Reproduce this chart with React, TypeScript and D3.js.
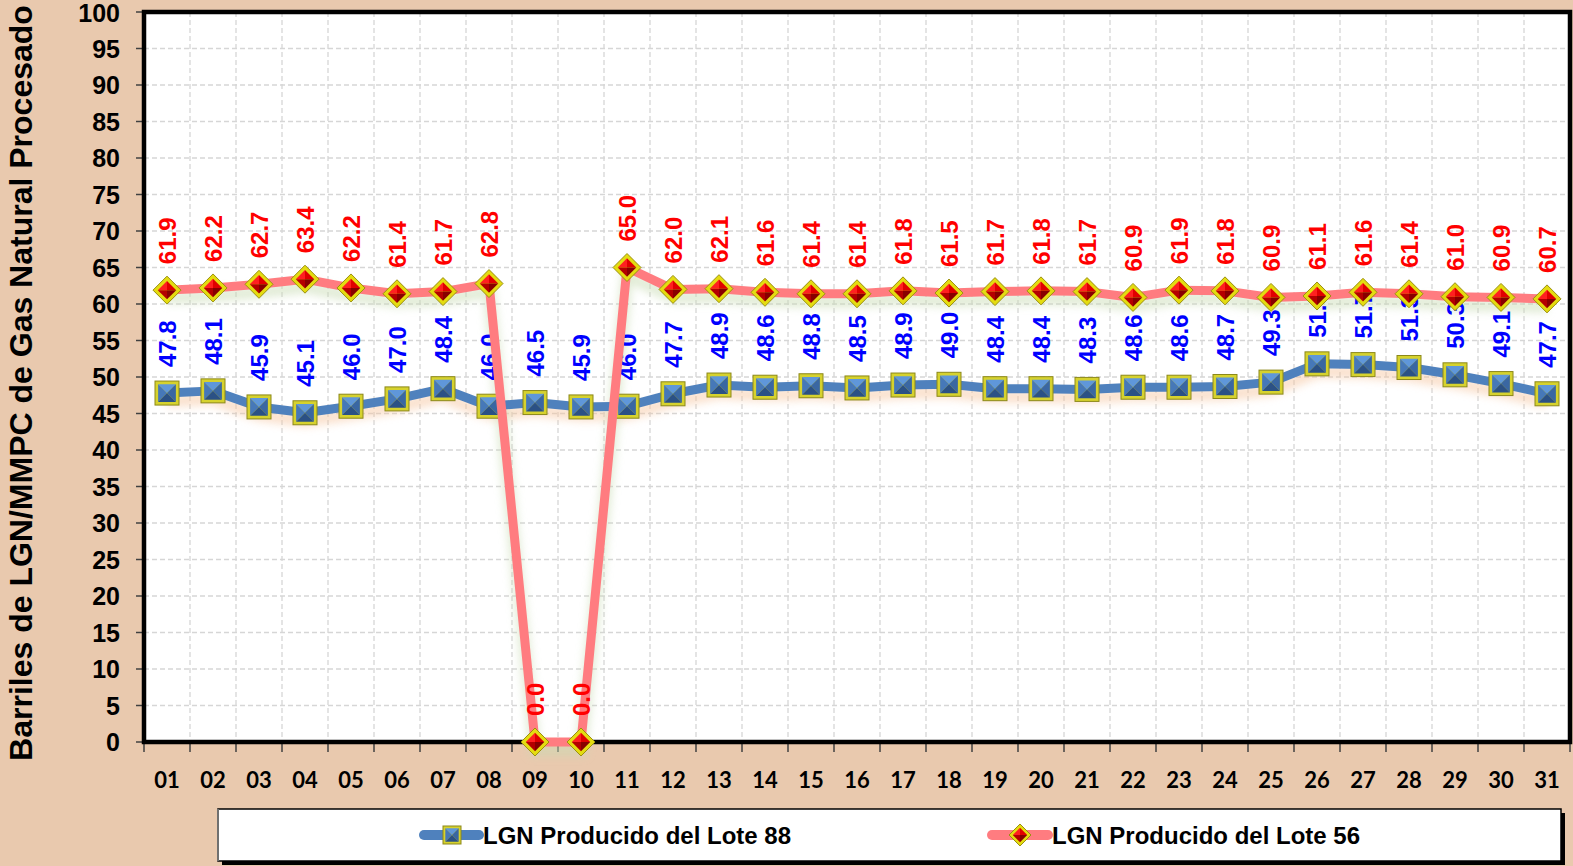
import React from "react";
import * as d3 from "d3";

const days = ["01","02","03","04","05","06","07","08","09","10","11","12","13","14","15","16","17","18","19","20","21","22","23","24","25","26","27","28","29","30","31"];
const lote88 = [47.8,48.1,45.9,45.1,46.0,47.0,48.4,46.0,46.5,45.9,46.0,47.7,48.9,48.6,48.8,48.5,48.9,49.0,48.4,48.4,48.3,48.6,48.6,48.7,49.3,51.8,51.7,51.3,50.3,49.1,47.7];
const lote56 = [61.9,62.2,62.7,63.4,62.2,61.4,61.7,62.8,0.0,0.0,65.0,62.0,62.1,61.6,61.4,61.4,61.8,61.5,61.7,61.8,61.7,60.9,61.9,61.8,60.9,61.1,61.6,61.4,61.0,60.9,60.7];
const yTicks = d3.range(0, 101, 5);
const seriesNames = ["LGN Producido del Lote 88", "LGN Producido del Lote 56"];

const W = 1573, H = 866;
const L = 144, R = 1570, T = 12, B = 742;
const BG = "#e9c9ae";
const BLUE = "#4f81bd";
const PINK = "#ff7c80";

function SquareMarker({ x, y, s = 12 }: { x: number; y: number; s?: number }) {
  const i = s * 0.74;
  return (
    <g transform={`translate(${x},${y})`}>
      <rect x={-s} y={-s} width={2 * s} height={2 * s} fill="#d6d22e" stroke="#8c881a" strokeWidth={1} />
      <polygon points={`${-i},${-i} ${i},${-i} 0,0`} fill="#5f97da" />
      <polygon points={`${-i},${-i} ${-i},${i} 0,0`} fill="#4678b8" />
      <polygon points={`${i},${-i} ${i},${i} 0,0`} fill="#3a67a2" />
      <polygon points={`${-i},${i} ${i},${i} 0,0`} fill="#2b5185" />
    </g>
  );
}

function DiamondMarker({ x, y, r = 14 }: { x: number; y: number; r?: number }) {
  const i = r * 0.66;
  return (
    <g transform={`translate(${x},${y})`}>
      <polygon points={`0,${-r} ${r},0 0,${r} ${-r},0`} fill="#e4dc10" stroke="#9a9010" strokeWidth={1} />
      <polygon points={`${-i},0 0,${-i} 0,0`} fill="#ff2020" />
      <polygon points={`0,${-i} ${i},0 0,0`} fill="#e00000" />
      <polygon points={`${i},0 0,${i} 0,0`} fill="#880000" />
      <polygon points={`0,${i} ${-i},0 0,0`} fill="#b40000" />
    </g>
  );
}

export default function App() {
  const x = d3.scaleBand<string>().domain(days).range([L, R]);
  const y = d3.scaleLinear().domain([0, 100]).range([B, T]);
  const cx = (d: string) => (x(d) as number) + x.bandwidth() / 2;
  const line = d3.line<number>().x((_, i) => cx(days[i])).y((v) => y(v));
  const bounds = days.map((d) => x(d) as number).concat([R]);

  return (
    <svg width={W} height={H} style={{ position: "fixed", left: 0, top: 0, display: "block" }} fontFamily="'Liberation Sans', Arial, sans-serif">
      <defs>
        <filter id="glow" x="-10%" y="-50%" width="120%" height="200%">
          <feGaussianBlur stdDeviation="4" />
        </filter>
      </defs>
      <rect x={0} y={0} width={W} height={H} fill={BG} />
      <rect x={L} y={T} width={R - L} height={B - T} fill="#ffffff" />
      {/* grid */}
      {yTicks.filter((t) => t > 0 && t < 100).map((t) => (
        <line key={"gy" + t} x1={L} x2={R} y1={y(t)} y2={y(t)} stroke="#d6d6d6" strokeWidth={1.3} strokeDasharray="5,3" />
      ))}
      {bounds.slice(1, -1).map((b, i) => (
        <line key={"gx" + i} x1={b} x2={b} y1={T} y2={B} stroke="#d6d6d6" strokeWidth={1.3} strokeDasharray="5,3" />
      ))}
      {/* y ticks */}
      {yTicks.map((t) => (
        <g key={"yt" + t}>
          <line x1={L - 8} x2={L} y1={y(t)} y2={y(t)} stroke="#404040" strokeWidth={1.5} />
          <text x={120} y={Math.max(y(t), 13)} dy="0.36em" textAnchor="end" fontSize={25} fontWeight="bold" fill="#000">{t}</text>
        </g>
      ))}
      {/* x ticks */}
      {bounds.map((b, i) => (
        <line key={"xt" + i} x1={b} x2={b} y1={B} y2={B + 10} stroke="#404040" strokeWidth={1.5} />
      ))}
      {days.map((d) => (
        <text key={"xl" + d} x={cx(d)} y={788} textAnchor="middle" fontSize={22} fontWeight="bold" fontFamily="Lato, 'Open Sans', sans-serif" fill="#000">{d}</text>
      ))}
      {/* plot border */}
      <rect x={L} y={T} width={R - L} height={B - T} fill="none" stroke="#000" strokeWidth={4.5} />
      {/* axis title */}
      <text transform={`translate(20,383) rotate(-90)`} dy="0.36em" textAnchor="middle" fontSize={32} fontWeight="bold" fill="#000">Barriles de LGN/MMPC de Gas Natural Procesado</text>

      {/* glows */}
      <path d={line(lote88) || ""} transform="translate(0,8)" fill="none" stroke="#f6c6a0" strokeWidth={12} opacity={0.55} filter="url(#glow)" />
      <path d={line(lote56) || ""} transform="translate(0,8)" fill="none" stroke="#c9dcb4" strokeWidth={12} opacity={0.55} filter="url(#glow)" />

      {/* series 88 */}
      <path d={line(lote88) || ""} fill="none" stroke={BLUE} strokeWidth={9} strokeLinejoin="round" />
      {lote88.map((v, i) => <SquareMarker key={"m88" + i} x={cx(days[i])} y={y(v)} />)}
      {lote88.map((v, i) => (
        <text key={"l88" + i} transform={`translate(${cx(days[i])},${y(v) - 26}) rotate(-90)`} dy="0.36em" textAnchor="start" fontSize={24} fontWeight="bold" fill="#0000ff">{v.toFixed(1)}</text>
      ))}

      {/* series 56 */}
      <path d={line(lote56) || ""} fill="none" stroke={PINK} strokeWidth={9} strokeLinejoin="round" />
      {lote56.map((v, i) => <DiamondMarker key={"m56" + i} x={cx(days[i])} y={y(v)} />)}
      {lote56.map((v, i) => (
        <text key={"l56" + i} transform={`translate(${cx(days[i])},${y(v) - 26}) rotate(-90)`} dy="0.36em" textAnchor="start" fontSize={24} fontWeight="bold" fill="#ff0000">{v.toFixed(1)}</text>
      ))}

      {/* legend */}
      <rect x={222} y={813} width={1343} height={52} fill="#000" />
      <rect x={218} y={809} width={1343} height={52} fill="#fff" stroke="#000" strokeWidth={1.5} />
      <line x1={218} x2={218} y1={809} y2={861} stroke="#707070" strokeWidth={2} />
      <line x1={424} x2={479} y1={835} y2={835} stroke={BLUE} strokeWidth={10} strokeLinecap="round" />
      <SquareMarker x={452} y={835} s={9} />
      <text x={483} y={844} fontSize={24} fontWeight="bold" fill="#000">{seriesNames[0]}</text>
      <line x1={992} x2={1048} y1={835} y2={835} stroke={PINK} strokeWidth={10} strokeLinecap="round" />
      <DiamondMarker x={1020} y={835} r={11} />
      <text x={1052} y={844} fontSize={24} fontWeight="bold" fill="#000">{seriesNames[1]}</text>
    </svg>
  );
}
